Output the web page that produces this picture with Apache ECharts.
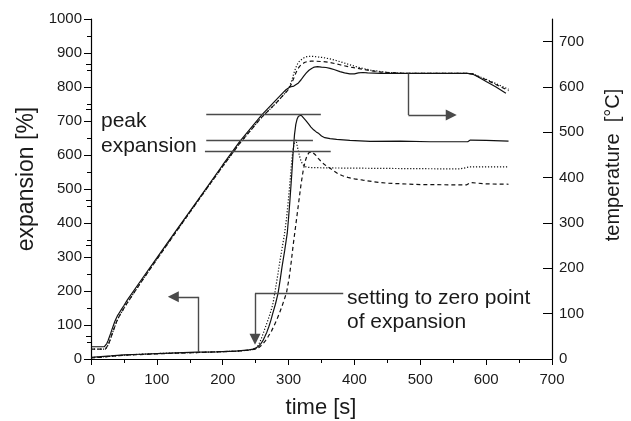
<!DOCTYPE html>
<html>
<head>
<meta charset="utf-8">
<script src="https://cdn.jsdelivr.net/npm/echarts@6/dist/echarts.min.js"></script>
<style>
html,body{margin:0;padding:0;background:#fff;}
#chart{width:631px;height:421px;}
</style>
</head>
<body>
<div id="chart"></div>
<script>
// ---- data: [time s, value] ----
const solidExpansion = [[0,5],[15,7],[30,9],[50,12],[75,14],[100,16],[130,18],[160,20],[190,21],[220,23],[240,27],[246,29],[250,32],[254,37],[258,45],[261,54],[264,66],[267,79],[270,95],[273,113],[276,134],[280,161],[284,193],[287,230],[290,270],[294,318],[298,370],[300,415],[302,465],[304,520],[305,548],[306,578],[307,610],[308,635],[309,660],[311,690],[313,706],[315,714],[317,718],[319,717],[322,712],[326,702],[330,692],[334,682],[338,674],[342,668],[346,663],[350,656],[355,651],[363,648],[373,646],[393,643],[424,640],[470,641],[515,639],[572,639],[576,644],[600,643],[634,641]];
const dottedExpansion = [[0,4],[15,6],[30,8],[50,11],[75,14],[100,16],[130,18],[160,19],[190,21],[220,23],[240,26],[250,30],[254,40],[257,52],[259,62],[262,78],[266,100],[269,116],[272,134],[276,160],[279,193],[283,240],[287,290],[291,335],[294,370],[297,415],[299,455],[301,495],[303,540],[305,585],[307,620],[309,638],[310,643],[311,644],[312,638],[313,628],[315,610],[317,594],[319,582],[321,574],[324,567],[328,564],[335,563],[360,562],[420,561],[480,560],[560,559],[575,565],[634,565]];
const dashedExpansion = [[0,3],[15,5],[30,8],[50,11],[75,13],[100,15],[130,17],[160,19],[190,21],[220,23],[240,26],[250,29],[255,34],[260,42],[265,54],[269,66],[274,82],[278,98],[282,115],[286,134],[290,155],[294,178],[297,196],[301,240],[304,285],[307,335],[310,380],[313,425],[316,470],[319,515],[322,552],[325,580],[328,598],[331,607],[335,610],[338,606],[341,600],[345,590],[350,580],[354,573],[358,567],[363,561],[369,553],[375,545],[382,539],[390,534],[400,530],[413,526],[430,521],[450,517],[500,513],[570,512],[576,519],[600,515],[634,514]];

const solidTemperature = [[0,27],[20,27],[22,29],[24,34],[26,41],[28,49],[30,57],[32,66],[34,74],[36,82],[38,89],[40,95],[43,102],[46,109],[50,118],[55,130],[80,182],[100,223],[130,285],[162,350],[200,428],[226,480],[259,538],[280,570],[292,588],[296,594],[299,598],[302,600],[305,601],[308,602],[311,604],[315,609],[319,616],[323,624],[327,631],[331,637],[335,641],[339,644],[344,645],[350,644],[357,643],[363,641],[370,638],[378,634],[385,631],[393,629],[400,629],[406,631],[413,632],[420,631],[440,630],[500,630],[545,630],[572,630],[580,628],[588,622],[600,612],[615,600],[630,586]];
const dottedTemperature = [[0,22],[22,22],[24,25],[26,31],[28,38],[30,46],[32,55],[34,63],[36,71],[38,79],[40,86],[42,92],[45,100],[48,107],[52,117],[57,128],[80,178],[100,220],[130,282],[162,348],[200,425],[226,476],[259,533],[280,563],[292,582],[296,589],[299,595],[302,603],[305,615],[308,630],[311,643],[314,652],[317,658],[320,662],[324,665],[328,667],[334,668],[340,667],[352,665],[363,662],[378,656],[393,649],[405,644],[413,641],[425,637],[440,634],[452,632],[464,631],[480,630],[572,630],[580,629],[588,624],[600,617],[634,595]];
const dashedTemperature = [[0,22],[22,22],[24,25],[26,31],[28,38],[30,46],[32,55],[34,63],[36,71],[38,79],[40,86],[42,92],[45,100],[48,107],[52,117],[57,128],[80,178],[100,220],[130,282],[162,348],[200,425],[226,476],[259,533],[280,563],[292,582],[296,588],[299,593],[302,600],[305,609],[308,620],[311,631],[314,640],[317,646],[320,650],[324,654],[328,656],[334,657],[340,657],[352,656],[363,654],[378,649],[393,644],[405,641],[413,639],[425,636],[440,633],[452,632],[464,631],[480,630],[572,630],[580,629],[588,623],[600,616],[634,592]];

// annotation paths in data units
const peakLineTop = [[175,720],[349,720]];
const peakLineMid = [[175,644],[337,644]];
const peakLineLow = [[173,610],[364,610]];
const arrowToExpansionAxis = [[162.5,20],[162.5,183],[125,183]];
const arrowToTemperatureAxis = [[482,630],[482,538],[547,538]];
const arrowZeroPoint = [[383,193],[249,193],[249,58]];

// ticks
const temperatureMajorTicks = [0,100,200,300,400,500,600,700];
const temperatureMinorTicks = [50,150,250,350,450,550,650,750];

const FONT = '"Liberation Sans", Arial, Helvetica, sans-serif';
const INK = '#1a1a1a';
const CURVE = '#111';
const ANN = '#4a4a4a';

const chart = echarts.init(document.getElementById('chart'), null, {renderer:'canvas'});

function curve(name, data, yIdx, type) {
  return {
    name, type:'line', data, yAxisIndex:yIdx, showSymbol:false, symbol:'none',
    smooth:false, animation:false, silent:true,
    lineStyle:{color:CURVE, width:1.2, type:type}
  };
}
// split a path into plain segments + a final segment carrying an arrowhead
function annot(path, yIdx, arrow) {
  const out = [];
  for (let i = 0; i < path.length - 1; i++) {
    const last = i === path.length - 2;
    out.push({
      type:'lines', coordinateSystem:'cartesian2d', yAxisIndex:yIdx,
      animation:false, silent:true, z:5,
      symbol: (arrow && last) ? ['none','triangle'] : ['none','none'],
      symbolSize: [7,11],
      lineStyle:{color:ANN, width:1.4, opacity:1, curveness:0},
      itemStyle:{color:'#222'},
      data:[{coords:[path[i], path[i+1]]}]
    });
  }
  return out;
}

const option = {
  animation:false,
  backgroundColor:'#fff',
  grid:{left:91, right:79, top:19, bottom:62, outerBoundsMode:'none', containLabel:false},
  xAxis:{
    type:'value', min:0, max:700, interval:100,
    axisLine:{show:true, onZero:false, lineStyle:{color:'#000', width:1.2}},
    axisTick:{show:true, inside:false, length:6, lineStyle:{color:'#000', width:1}},
    minorTick:{show:true, splitNumber:2, length:4, lineStyle:{color:'#000', width:1}},
    splitLine:{show:false}, minorSplitLine:{show:false},
    axisLabel:{fontSize:15, color:INK, fontFamily:FONT, margin:13, formatter:v => String(v)}
  },
  yAxis:[
    {
      type:'value', position:'left', min:0, max:1000, interval:100,
      axisLine:{show:true, onZero:false, lineStyle:{color:'#000', width:1.2}},
      axisTick:{show:true, inside:false, length:7, lineStyle:{color:'#000', width:1}},
      minorTick:{show:true, splitNumber:2, length:4, lineStyle:{color:'#000', width:1}},
      splitLine:{show:false}, minorSplitLine:{show:false},
      axisLabel:{fontSize:15, color:INK, fontFamily:FONT, margin:9, formatter:v => String(v)}
    },
    {
      type:'value', position:'right', min:0, max:750, interval:50,
      axisLine:{show:true, onZero:false, lineStyle:{color:'#000', width:1.2}},
      axisTick:{show:true, inside:true, length:9, customValues:temperatureMajorTicks, lineStyle:{color:'#000', width:1}},
      splitLine:{show:false},
      axisLabel:{fontSize:15, color:INK, fontFamily:FONT, margin:7, customValues:temperatureMajorTicks, formatter:v => String(v)}
    },
    {
      type:'value', position:'right', min:0, max:750, interval:50,
      axisLine:{show:false},
      axisTick:{show:true, inside:true, length:5, customValues:temperatureMinorTicks, lineStyle:{color:'#000', width:1}},
      splitLine:{show:false},
      axisLabel:{show:false}
    }
  ],
  series:[
    curve('solid temperature', solidTemperature, 1, 'solid'),
    curve('dotted temperature', dottedTemperature, 1, [1.2,1.8]),
    curve('dashed temperature', dashedTemperature, 1, [4,3]),
    curve('solid expansion', solidExpansion, 0, 'solid'),
    curve('dotted expansion', dottedExpansion, 0, [1.2,1.8]),
    curve('dashed expansion', dashedExpansion, 0, [4,3])
  ].concat(
    annot(peakLineTop, 0, false),
    annot(peakLineMid, 0, false),
    annot(peakLineLow, 0, false),
    annot(arrowToExpansionAxis, 0, true),
    annot(arrowToTemperatureAxis, 1, true),
    annot(arrowZeroPoint, 0, true)
  ),
  graphic:[
    {type:'text', x:27, y:179, rotation:Math.PI/2, style:{text:'expansion [%]', font:'23px '+FONT, fill:INK, align:'center', verticalAlign:'middle'}},
    {type:'text', x:613, y:165, rotation:Math.PI/2, style:{text:'temperature  [°C]', font:'20px '+FONT, fill:INK, align:'center', verticalAlign:'middle'}},
    {type:'text', x:321, y:408, style:{text:'time [s]', font:'22px '+FONT, fill:INK, align:'center', verticalAlign:'middle'}},
    {type:'text', x:101, y:121.5, style:{text:'peak', font:'21px '+FONT, fill:INK, align:'left', verticalAlign:'middle'}},
    {type:'text', x:101, y:146, style:{text:'expansion', font:'21px '+FONT, fill:INK, align:'left', verticalAlign:'middle'}},
    {type:'text', x:347, y:298, style:{text:'setting to zero point', font:'21px '+FONT, fill:INK, align:'left', verticalAlign:'middle'}},
    {type:'text', x:347, y:322, style:{text:'of expansion', font:'21px '+FONT, fill:INK, align:'left', verticalAlign:'middle'}}
  ]
};
chart.setOption(option);
</script>
</body>
</html>
